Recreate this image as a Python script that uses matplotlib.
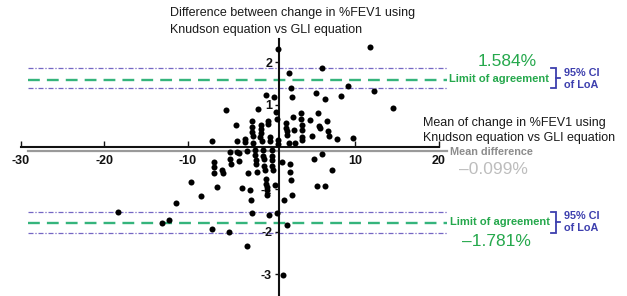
"""Bland-Altman style plot: Knudson vs GLI change in %FEV1."""

import matplotlib

matplotlib.use("Agg")
import matplotlib.pyplot as plt

plt.rcParams["font.family"] = ["Liberation Sans", "DejaVu Sans"]
plt.rcParams["axes.unicode_minus"] = False

# mean of change (x) and difference of change (y)
mean_change = [
    0.81, 11.74, 6.01, 2.10, 2.30, 2.40, 5.29, 6.41, 8.32, 9.22,
    12.28, 14.49, -0.69, 0.34, -5.45, -1.58, 0.54, 0.60, -4.31, -2.37,
    -2.37, -2.30, -1.26, -1.26, -1.26, -0.38, -0.38, 2.61, 3.59, 3.59,
    3.65, 3.69, 4.61, 5.53, 5.72, 5.81, 6.61, 6.73, 6.83, 1.70,
    1.74, 1.82, 2.73, 4.81, 7.81, 9.80, -7.09, -4.17, -3.17, -3.17,
    -2.18, -1.17, -0.18, -0.18, 0.72, 0.72, 1.86, 2.04, 2.81, 3.65,
    -1.38, -2.18, 3.69,
    -4.97, -4.17, -2.97, -1.98, -0.98, 0.02, -4.97, -4.89, -3.89, -3.86,
    -6.85, -6.85, -6.85, -5.87, -5.81, -2.81, -1.98, -1.89, -1.80, -1.77,
    -0.96, -0.86, -0.86, -0.78, 0.02, 0.10, 0.10, 0.22, -0.69, -0.69,
    -0.57, -0.57, -0.50, 0.36, 1.22, 2.22, 2.22, 2.31, 2.49, 1.52,
    -3.57, -2.57, -2.51, -6.56, -9.64, -8.50, -11.44, -13.17, -12.24, -18.35,
    -7.10, -5.09, -2.97, -2.34, -0.26, 0.66, 1.82, 1.41, 5.09, 6.01,
    7.21, 5.39, 6.41,
]
diff_change = [
    2.30, 2.35, 1.85, 1.74, 1.38, 1.18, 1.27, 1.12, 1.20, 1.44,
    1.32, 0.92, 1.22, 1.17, 0.88, 0.90, 0.83, 0.67, 0.52, 0.61,
    0.48, 0.35, 0.52, 0.42, 0.33, 0.61, 0.54, 0.70, 0.79, 0.65,
    0.52, 0.39, 0.64, 0.79, 0.49, 0.44, 0.61, 0.38, 0.27, 0.56,
    0.44, 0.38, 0.40, 0.26, 0.18, 0.21, 0.13, 0.14, 0.20, 0.11,
    0.26, 0.13, 0.24, 0.14, 0.16, 0.07, 0.28, 0.09, 0.09, 0.16,
    0.24, 0.10, 0.24,
    -0.12, -0.12, -0.09, -0.07, -0.07, -0.07, -0.29, -0.40, -0.33, -0.15,
    -0.35, -0.46, -0.61, -0.53, -0.62, -0.62, -0.19, -0.31, -0.40, -0.58,
    -0.20, -0.29, -0.44, -0.53, -0.20, -0.31, -0.44, -0.54, -0.76, -0.86,
    -0.94, -1.01, -1.13, -0.89, -0.35, -0.39, -0.58, -0.78, -1.13, -1.24,
    -0.97, -1.01, -1.24, -0.93, -0.83, -1.15, -1.32, -1.80, -1.72, -1.52,
    -1.93, -2.01, -2.33, -1.55, -1.61, -1.55, -1.84, -3.01, -0.29, -0.16,
    -0.54, -0.92, -0.92,
]

mean_diff = -0.099
upper_loa = 1.584
lower_loa = -1.781
upper_ci = (1.39, 1.86)
lower_ci = (-2.02, -1.53)

x_ticks = [-30, -20, -10, 10, 20]
y_ticks = [-3, -2, -1, 1, 2]
line_span = (-29.2, 21.0)

W, H = 627, 296
GREEN_LINE = "#35b47c"
GREEN_TEXT = "#25a84c"
PURPLE = "#7466c4"
BLUE = "#3d3fae"


def fx(px):
    return px / W


def fy(py):
    return 1 - py / H


fig = plt.figure(figsize=(W / 100, H / 100), dpi=100)
ax = fig.add_axes([0, 0, 1, 1])
ax.set_xlim(-32.51, 42.57)
ax.set_ylim(-3.506, 3.459)

# reference lines
for y in upper_ci + lower_ci:
    ax.plot(line_span, [y, y], color=PURPLE, lw=0.9, dashes=(4, 1.5, 1, 1.5))
for y in (upper_loa, lower_loa):
    ax.plot(line_span, [y, y], color=GREEN_LINE, lw=1.7, dashes=(5, 3))
ax.plot(line_span, [mean_diff, mean_diff], color="#9a9a9a", lw=1.6)

ax.scatter(mean_change, diff_change, s=19, color="black", zorder=3, linewidths=0)

# axes crossing inside the plot
for side in ("top", "right"):
    ax.spines[side].set_visible(False)
ax.spines["bottom"].set_position(("data", 0))
ax.spines["bottom"].set_bounds(-30, 20)
ax.spines["left"].set_position(("data", 0.9))
ax.spines["left"].set_bounds(-3.6, 2.55)
for side in ("bottom", "left"):
    ax.spines[side].set_linewidth(1.5)
    ax.spines[side].set_color("#111111")

ax.set_xticks(x_ticks)
ax.set_xticklabels([str(t) for t in x_ticks])
ax.set_yticks(y_ticks)
ax.set_yticklabels([str(t) for t in y_ticks])
ax.tick_params(axis="x", direction="in", length=4, width=1, pad=6,
               labelsize=9, colors="#111111")
ax.tick_params(axis="y", direction="out", length=3, width=1, pad=2,
               labelsize=9, colors="#111111")
for lab in ax.get_xticklabels() + ax.get_yticklabels():
    lab.set_fontweight("bold")

# axis titles
fig.text(fx(170), fy(21.5), "Difference between change in %FEV1 using\n"
         "Knudson equation vs GLI equation", fontsize=9, color="#1a1a1a",
         va="center", linespacing=1.5)
fig.text(fx(423), fy(130.5), "Mean of change in %FEV1 using\n"
         "Knudson equation vs GLI equation", fontsize=9, color="#1a1a1a",
         va="center", linespacing=1.3)

# right-hand annotations
fig.text(fx(478), fy(62), f"{upper_loa:.3f}%", fontsize=12.5, color=GREEN_TEXT,
         va="center")
fig.text(fx(449), fy(79), "Limit of agreement", fontsize=8, color=GREEN_TEXT,
         fontweight="bold", va="center")
fig.text(fx(450), fy(222), "Limit of agreement", fontsize=8, color=GREEN_TEXT,
         fontweight="bold", va="center")
fig.text(fx(462), fy(241), f"\u2013{abs(lower_loa):.3f}%", fontsize=12.5,
         color=GREEN_TEXT, va="center")
fig.text(fx(450), fy(152), "Mean difference", fontsize=7.8, color="#8c8c8c",
         fontweight="bold", va="center")
fig.text(fx(459), fy(170), f"\u2013{abs(mean_diff):.3f}%", fontsize=12.5,
         color="#bdbdbd", va="center")

for lo, hi in (upper_ci, lower_ci):
    ax.plot([33.5, 34.1, 34.1, 33.5], [hi, hi, lo, lo], color=BLUE, lw=1.3,
            solid_joinstyle="miter")
    ax.plot([34.1, 34.6], [(lo + hi) / 2] * 2, color=BLUE, lw=1.3)
fig.text(fx(564), fy(79), "95% CI\nof LoA", fontsize=7.8, color=BLUE,
         fontweight="bold", va="center", linespacing=1.2)
fig.text(fx(564), fy(222), "95% CI\nof LoA", fontsize=7.8, color=BLUE,
         fontweight="bold", va="center", linespacing=1.2)

fig.savefig("out.png", dpi=100)
